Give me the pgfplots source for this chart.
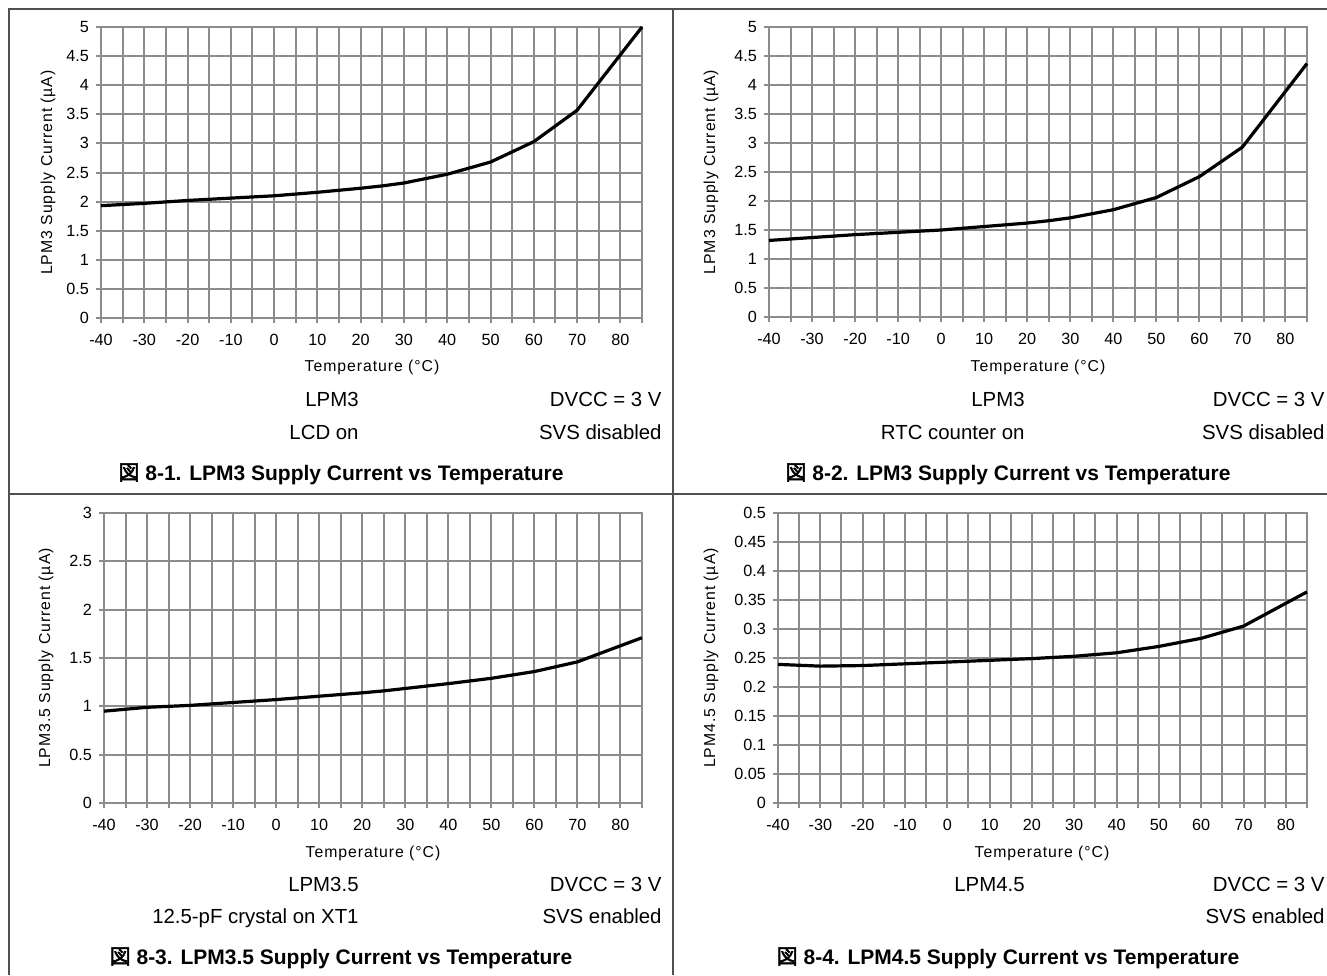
\documentclass[border=0pt]{standalone}
\usepackage{pgfplots}
\pgfplotsset{compat=1.18}
\usepackage{fontspec}
\setmainfont{Liberation Sans}
\newfontfamily\cjk[AutoFakeBold=2.5]{Noto Sans CJK SC}
\newfontfamily\lsp[LetterSpace=6]{Liberation Sans}
\definecolor{gridc}{RGB}{140,140,140}
\definecolor{framec}{RGB}{80,80,80}
\newcommand\ann{\fontsize{10.2}{12}\selectfont}
\newcommand\capt{\fontsize{10.5}{12}\selectfont\bfseries}
\newcommand\axl{\lsp\fontsize{7.9}{9}\selectfont}
\pgfplotsset{
  tiplot/.style={
    scale only axis, clip=false,
    axis line style={gridc, line width=1pt},
    grid=both,
    major grid style={gridc, line width=1pt},
    minor grid style={gridc, line width=1pt},
    xmin=-40, xmax=85,
    xtick={-40,-30,-20,-10,0,10,20,30,40,50,60,70,80},
    minor xtick={-35,-25,-15,-5,5,15,25,35,45,55,65,75,85},
    xticklabels={-40,-30,-20,-10,0,10,20,30,40,50,60,70,80},
    tick align=outside, tick pos=left,
    major tick length=2.5pt, minor tick length=2.5pt,
    every tick/.style={gridc, line width=1pt},
    ticklabel style={font=\fontsize{8.1}{9}\selectfont, text=black},
    xticklabel style={yshift=-2pt},
    cycle list={{black, line width=1.6pt, line join=round, mark=none}},
  },
  yfive/.style={ymin=0, ymax=5, ytick={0,0.5,1,1.5,2,2.5,3,3.5,4,4.5,5},
    yticklabels={0,0.5,1,1.5,2,2.5,3,3.5,4,4.5,5}},
}
\begin{document}
\begin{tikzpicture}[x=0.5pt,y=-0.5pt]
\path[use as bounding box] (0,0) rectangle (1327,975);
\draw[framec, line width=0.75pt] (9,975)--(9,9)--(1327,9);
\draw[framec, line width=0.75pt] (673,9)--(673,975);
\draw[framec, line width=0.75pt] (9,494)--(1327,494);

% Panel 1
\begin{axis}[tiplot, yfive, width=270.5pt, height=145.5pt, at={(50.5pt,-159pt)}, anchor=south west]
\addplot[black, line width=1.6pt, mark=none] coordinates {(-40,1.93) (-30,1.97) (-20,2.02) (-10,2.06) (0,2.10) (10,2.16) (20,2.23) (25,2.27) (30,2.32) (40,2.47) (50,2.68) (60,3.03) (70,3.57) (85,5.0)};
\end{axis}
% Panel 2
\begin{axis}[tiplot, yfive, width=269pt, height=145pt, at={(384.5pt,-158.5pt)}, anchor=south west]
\addplot[black, line width=1.6pt, mark=none] coordinates {(-40,1.32) (-30,1.37) (-20,1.42) (-10,1.46) (0,1.50) (10,1.56) (20,1.62) (25,1.66) (30,1.71) (40,1.85) (50,2.06) (60,2.42) (70,2.93) (85,4.37)};
\end{axis}
% Panel 3
\begin{axis}[tiplot, width=269pt, height=145pt, at={(52pt,-401.5pt)}, anchor=south west,
  ymin=0, ymax=3, ytick={0,0.5,1,1.5,2,2.5,3}, yticklabels={0,0.5,1,1.5,2,2.5,3}]
\addplot[black, line width=1.6pt, mark=none] coordinates {(-40,0.95) (-30,0.99) (-20,1.01) (-10,1.04) (0,1.07) (10,1.105) (20,1.14) (25,1.16) (30,1.185) (40,1.235) (50,1.29) (60,1.36) (70,1.46) (85,1.71)};
\end{axis}
% Panel 4
\begin{axis}[tiplot, width=264.5pt, height=145pt, at={(389pt,-401.5pt)}, anchor=south west,
  ymin=0, ymax=0.5, ytick={0,0.05,0.1,0.15,0.2,0.25,0.3,0.35,0.4,0.45,0.5},
  yticklabels={0,0.05,0.1,0.15,0.2,0.25,0.3,0.35,0.4,0.45,0.5}]
\addplot[black, line width=1.6pt, mark=none] coordinates {(-40,0.239) (-30,0.236) (-20,0.237) (-10,0.240) (0,0.243) (10,0.246) (20,0.249) (30,0.253) (40,0.259) (50,0.270) (60,0.284) (70,0.305) (85,0.364)};
\end{axis}

% axis labels
\node[rotate=90, font=\axl, inner sep=0] at (48,172.5) {LPM3 Supply Current (µA)};
\node[rotate=90, font=\axl, inner sep=0] at (711,172) {LPM3 Supply Current (µA)};
\node[rotate=90, font=\axl, inner sep=0] at (46,658) {LPM3.5 Supply Current (µA)};
\node[rotate=90, font=\axl, inner sep=0] at (711,658) {LPM4.5 Supply Current (µA)};
\node[font=\axl, inner sep=0] at (372,367) {Temperature (°C)};
\node[font=\axl, inner sep=0] at (1038,367) {Temperature (°C)};
\node[font=\axl, inner sep=0] at (373,853) {Temperature (°C)};
\node[font=\axl, inner sep=0] at (1042,853) {Temperature (°C)};

% annotations
\begin{scope}[every node/.style={inner sep=0, font=\ann, anchor=base east}]
\node at (359,406) {LPM3};
\node at (662,406) {DVCC = 3 V};
\node at (359,439) {LCD on};
\node at (662,439) {SVS disabled};
\node at (1025,406) {LPM3};
\node at (1325,406) {DVCC = 3 V};
\node at (1025,439) {RTC counter on};
\node at (1325,439) {SVS disabled};
\node at (359,891.5) {LPM3.5};
\node at (662,891.5) {DVCC = 3 V};
\node at (359,923.5) {12.5-pF crystal on XT1};
\node at (662,923.5) {SVS enabled};
\node at (1025,891.5) {LPM4.5};
\node at (1325,891.5) {DVCC = 3 V};
\node at (1325,923.5) {SVS enabled};
\end{scope}
\begin{scope}[every node/.style={inner sep=0, font=\capt, anchor=base}]
\node at (341,480) {{\cjk 図} 8-1. LPM3 Supply Current vs Temperature};
\node at (1008,480) {{\cjk 図} 8-2. LPM3 Supply Current vs Temperature};
\node at (341,964) {{\cjk 図} 8-3. LPM3.5 Supply Current vs Temperature};
\node at (1008,964) {{\cjk 図} 8-4. LPM4.5 Supply Current vs Temperature};
\end{scope}
\end{tikzpicture}
\end{document}
